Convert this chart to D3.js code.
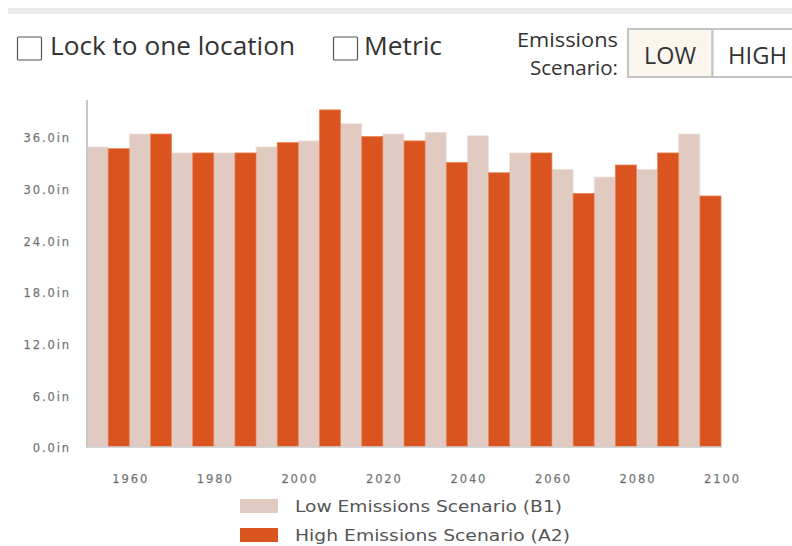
<!DOCTYPE html>
<html>
<head>
<meta charset="utf-8">
<script src="https://cdn.jsdelivr.net/npm/d3@7"></script>
<style>
  html, body { margin: 0; padding: 0; background: #fff; }
  svg { display: block; }
</style>
</head>
<body>
<svg id="chart" width="792" height="546"></svg>
<script>
// ---- data ----
const decades = [1950, 1960, 1970, 1980, 1990, 2000, 2010, 2020, 2030, 2040, 2050, 2060, 2070, 2080, 2090];
const lowValues  = [34.8, 36.3, 34.1, 34.1, 34.8, 35.5, 37.5, 36.3, 36.5, 36.1, 34.1, 32.2, 31.3, 32.2, 36.3];
const highValues = [34.6, 36.3, 34.1, 34.1, 35.3, 39.1, 36.0, 35.5, 33.0, 31.8, 34.1, 29.4, 32.7, 34.1, 29.1];
const yTicks = [0, 6, 12, 18, 24, 30, 36];
const xTicks = [1960, 1980, 2000, 2020, 2040, 2060, 2080, 2100];
const seriesNames = ["Low Emissions Scenario (B1)", "High Emissions Scenario (A2)"];
const seriesColors = ["#e1cac1", "#d9541e"];

const svg = d3.select("#chart");

// ---- top controls ----
svg.append("rect").attr("x", 8).attr("y", 8).attr("width", 784).attr("height", 6).attr("fill", "#ebebeb");

const ctrlFont = "'Open Sans', sans-serif";
function label(xp, yp, size, txt, len, anchor) {
  const t = svg.append("text").attr("x", xp).attr("y", yp).attr("font-family", ctrlFont)
    .attr("font-size", size).attr("fill", "#333").text(txt);
  if (anchor) t.attr("text-anchor", anchor);
  if (len) t.attr("textLength", len).attr("lengthAdjust", "spacingAndGlyphs");
  return t;
}
svg.append("rect").attr("x", 17.5).attr("y", 37).attr("width", 24).attr("height", 23)
  .attr("fill", "#fff").attr("stroke", "#555").attr("stroke-width", 1.2).attr("rx", 1);
label(50, 54.5, 26, "Lock to one location", 245);
svg.append("rect").attr("x", 333.5).attr("y", 37).attr("width", 24).attr("height", 23)
  .attr("fill", "#fff").attr("stroke", "#555").attr("stroke-width", 1.2).attr("rx", 1);
label(364, 54.5, 26, "Metric", 78);

label(517, 47, 20, "Emissions", 101);
label(530, 75, 20, "Scenario:", 88);

svg.append("rect").attr("x", 628).attr("y", 29).attr("width", 84.5).attr("height", 48)
  .attr("fill", "#faf6ee").attr("stroke", "#c4c4c4").attr("stroke-width", 2);
svg.append("rect").attr("x", 712.5).attr("y", 29).attr("width", 90).attr("height", 48)
  .attr("fill", "#fff").attr("stroke", "#c4c4c4").attr("stroke-width", 2);
label(644, 63.5, 23, "LOW", 52);
label(728, 63.5, 23, "HIGH", 59);

// ---- chart ----
const x = d3.scaleLinear().domain([1950, 2100]).range([87, 721]);
const y = d3.scaleLinear().domain([0, 40.25]).range([446.5, 100]);

const tickFont = "'DejaVu Sans', sans-serif";

// bars
const g = svg.append("g");
const rows = decades.map((d, i) => ({ d, low: lowValues[i], high: highValues[i] }));
g.selectAll("rect.low").data(rows).join("rect").attr("class", "low")
  .attr("x", r => x(r.d)).attr("width", r => x(r.d + 5) - x(r.d))
  .attr("y", r => y(r.low)).attr("height", r => y(0) - y(r.low))
  .attr("fill", seriesColors[0]).attr("stroke", "#efe2dc").attr("stroke-width", 0.8);
g.selectAll("rect.high").data(rows).join("rect").attr("class", "high")
  .attr("x", r => x(r.d + 5)).attr("width", r => x(r.d + 10) - x(r.d + 5))
  .attr("y", r => y(r.high)).attr("height", r => y(0) - y(r.high))
  .attr("fill", seriesColors[1]).attr("stroke", "#e8865c").attr("stroke-width", 0.8);

// axes
const yAxis = d3.axisLeft(y).tickValues(yTicks).tickSize(0).tickPadding(16)
  .tickFormat(d => d3.format(".1f")(d) + "in");
const yg = svg.append("g").attr("transform", "translate(87,0)").call(yAxis);
yg.select(".domain").attr("stroke", "#c8c8c8").attr("stroke-width", 2)
  .attr("d", "M0," + y.range()[1] + "V" + (y(0) + 0.5));
yg.selectAll("text").attr("font-family", tickFont).attr("font-size", 11.5)
  .attr("letter-spacing", 1.9).attr("fill", "#666").attr("stroke", "#999").attr("stroke-width", 0.25)
  .attr("dy", "0.45em");

const xAxis = d3.axisBottom(x).tickValues(xTicks).tickSize(0).tickPadding(36.5).tickFormat(d3.format("d"));
const xg = svg.append("g").attr("transform", "translate(0," + y(0) + ")").call(xAxis);
xg.select(".domain").attr("stroke", "#c8c8c8").attr("stroke-width", 1.5)
  .attr("d", "M86," + 0.5 + "H722");
xg.selectAll("text").attr("font-family", tickFont).attr("font-size", 11.5)
  .attr("letter-spacing", 1.9).attr("fill", "#666").attr("stroke", "#999").attr("stroke-width", 0.25)
  .attr("dy", "0").attr("dx", "1px");

// legend
const legend = svg.append("g");
seriesNames.forEach((name, i) => {
  const ly = 499 + i * 29;
  legend.append("rect").attr("x", 240).attr("y", ly).attr("width", 38).attr("height", 14)
    .attr("fill", seriesColors[i]);
  legend.append("text").attr("x", 295).attr("y", ly + 7).attr("dy", "0.36em")
    .attr("font-family", tickFont).attr("font-size", 16.5).attr("fill", "#555")
    .attr("textLength", i === 1 ? 275 : 267).attr("lengthAdjust", "spacingAndGlyphs").text(name);
});
</script>
</body>
</html>
